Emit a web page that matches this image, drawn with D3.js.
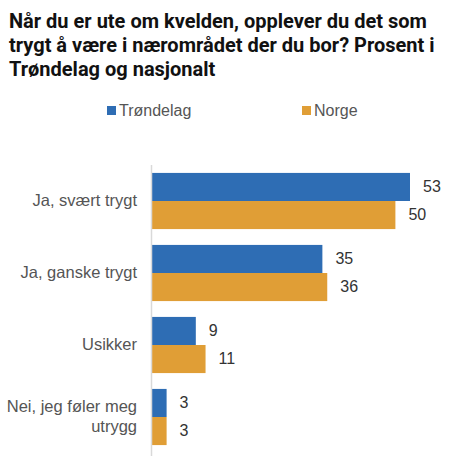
<!DOCTYPE html>
<html><head><meta charset="utf-8">
<script src="https://cdn.jsdelivr.net/npm/d3@7"></script>
<style>body{margin:0;background:#fff;}svg{display:block;}</style>
</head><body>
<script>
const categories = [["Ja, svært trygt"], ["Ja, ganske trygt"], ["Usikker"], ["Nei, jeg føler meg", "utrygg"]];
const seriesNames = ["Trøndelag", "Norge"];
const trondelag = [53, 35, 9, 3];
const norge = [50, 36, 11, 3];
const titleLines = ["Når du er ute om kvelden, opplever du det som", "trygt å være i nærområdet der du bor? Prosent i", "Trøndelag og nasjonalt"];
const colors = ["#2E6DB4", "#E09E36"];

const W = 465, H = 456;
const svg = d3.select("body").append("svg").attr("width", W).attr("height", H);

svg.append("g").selectAll("text").data(titleLines).join("text")
  .attr("x", 9).attr("y", (d, i) => 28 + i * 24)
  .attr("font-family", "Roboto, 'Noto Sans', sans-serif").attr("font-weight", 700)
  .attr("font-size", 20).attr("fill", "#111").text(d => d);

// legend
const legX = [107, 302];
seriesNames.forEach((n, i) => {
  svg.append("rect").attr("x", legX[i]).attr("y", 106).attr("width", 9).attr("height", 9).attr("fill", colors[i]);
  svg.append("text").attr("x", legX[i] + 12).attr("y", 116)
    .attr("font-family", "'Liberation Sans', Arial, sans-serif").attr("font-size", 16).attr("fill", "#555").text(n);
});

const x = d3.scaleLinear().domain([0, 53]).range([152, 410]);
const y = d3.scaleBand().domain(d3.range(categories.length)).range([165, 453]).paddingInner(0.22).paddingOuter(0.11);
const sub = d3.scaleBand().domain([0, 1]).range([0, y.bandwidth()]);

const data = [trondelag, norge];
categories.forEach((c, ci) => {
  data.forEach((s, si) => {
    const v = s[ci];
    const by = y(ci) + sub(si);
    svg.append("rect").attr("x", x(0)).attr("y", by).attr("width", x(v) - x(0)).attr("height", sub.bandwidth())
      .attr("fill", colors[si]);
    svg.append("text").attr("x", x(v) + 13).attr("y", by + sub.bandwidth() / 2 + 5)
      .attr("font-family", "'Liberation Sans', Arial, sans-serif").attr("font-size", 16).attr("fill", "#333").text(v);
  });
  const cy = y(ci) + y.bandwidth() / 2;
  const t = svg.append("text").attr("text-anchor", "end")
    .attr("font-family", "'Liberation Sans', Arial, sans-serif").attr("font-size", 16.5).attr("fill", "#555");
  c.forEach((line, li) => {
    t.append("tspan").attr("x", 137).attr("y", cy + 5 + (li - (c.length - 1) / 2) * 20).text(line);
  });
});

svg.append("line").attr("x1", x(0) - 0.5).attr("x2", x(0) - 0.5).attr("y1", 165).attr("y2", H)
  .attr("stroke", "#d9d9d9").attr("stroke-width", 1.5);
</script>
</body></html>
